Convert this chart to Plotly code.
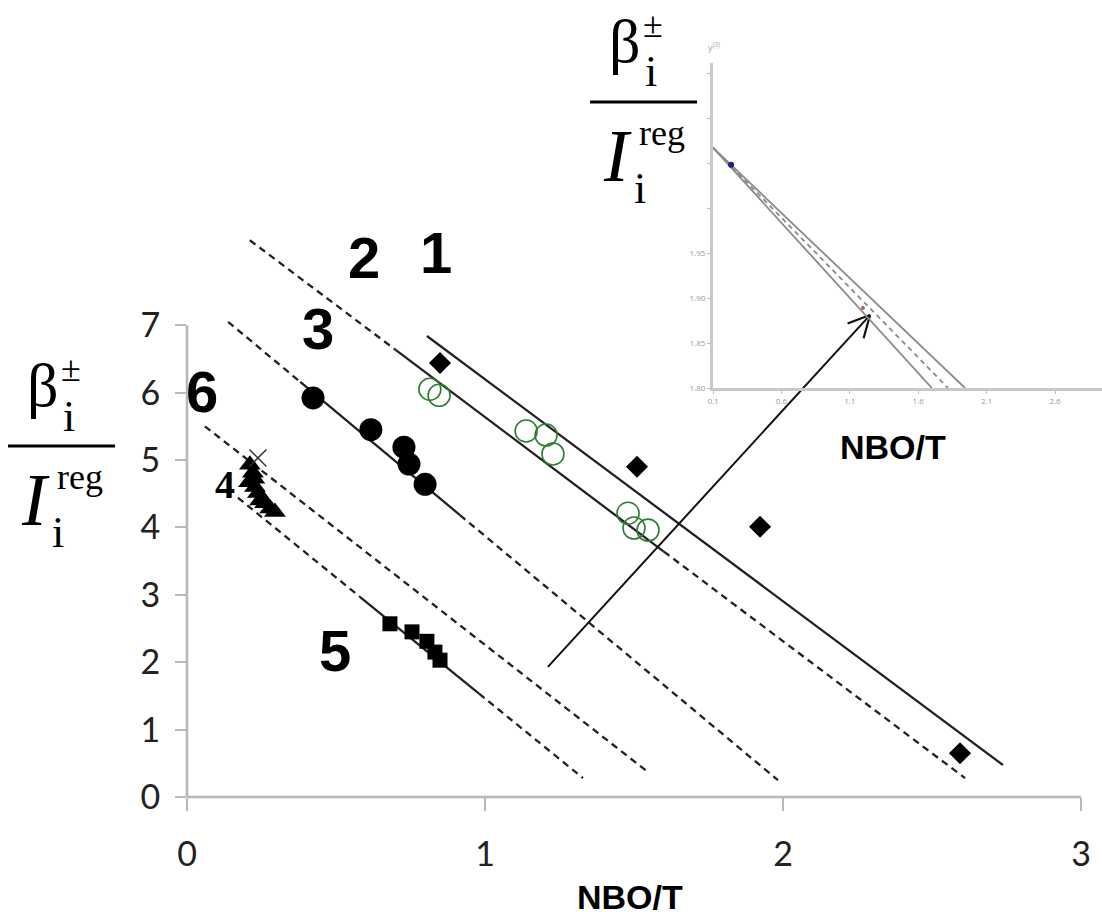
import math
import plotly.graph_objects as go

# ---------------- data: main panel (NBO/T vs beta/I) ----------------
diamond_x = [0.849, 1.510, 1.923, 2.594]
diamond_y = [6.44, 4.90, 4.01, 0.65]

open_circle_x = [0.815, 0.846, 1.138, 1.205, 1.228, 1.480, 1.500, 1.547]
open_circle_y = [6.05, 5.96, 5.43, 5.37, 5.09, 4.21, 3.99, 3.96]

dot_x = [0.423, 0.617, 0.728, 0.745, 0.799]
dot_y = [5.92, 5.45, 5.19, 4.94, 4.64]

triangle_x = [0.211, 0.221, 0.208, 0.228, 0.238, 0.252, 0.262, 0.279, 0.295, 0.226, 0.245]
triangle_y = [4.93, 4.81, 4.67, 4.60, 4.51, 4.43, 4.36, 4.28, 4.23, 4.72, 4.40]

cross_x = [0.238]
cross_y = [5.03]

square_x = [0.681, 0.755, 0.805, 0.832, 0.849]
square_y = [2.57, 2.45, 2.31, 2.15, 2.03]

# regression lines 1, 2, 3, 6, 5: end points and the part drawn solid
line_names = ["1", "2", "3", "6", "5"]
line_x0 = [0.805, 0.211, 0.138, 0.060, 0.171]
line_y0 = [6.84, 8.26, 7.05, 5.50, 4.44]
line_x1 = [2.738, 2.611, 1.983, 1.547, 1.329]
line_y1 = [0.475, 0.28, 0.25, 0.37, 0.28]
solid_x0 = [0.805, 0.70, 0.38, None, 0.58]
solid_x1 = [2.738, 1.60, 0.916, None, 0.98]

arrow_x = [1.211, 2.292]
arrow_y = [1.93, 7.15]

x_ticks = [0, 1, 2, 3]
y_ticks = [0, 1, 2, 3, 4, 5, 6, 7]

# ---------------- data: inset ----------------
inset_start_x = 0.1
inset_start_y = 2.067
inset_end_x = [1.70, 1.818, 1.942]
inset_end_y = [1.80, 1.80, 1.80]
inset_end_dash = ["solid", "dash", "solid"]
inset_blue_x, inset_blue_y = [0.232], [2.048]
inset_red_x, inset_red_y = [1.196], [1.889]
inset_x_ticks = [0.1, 0.6, 1.1, 1.6, 2.1, 2.6]
inset_x_labels = ["0.1", "0.6", "1.1", "1.6", "2.1", "2.6"]
inset_y_ticks = [1.80, 1.85, 1.90, 1.95]
inset_y_labels = ["1.80", "1.85", "1.90", "1.95"]
inset_y_minor = [2.00, 2.05, 2.10, 2.15]

# ---------------- geometry of the page ----------------
W, H = 1102, 924
ML, MB = 187, 127
PW, PH = W - ML, H - MB
X_PER_UNIT, Y_PER_UNIT = 298.0, 67.4
X_MAX = PW / X_PER_UNIT
Y_MAX = PH / Y_PER_UNIT


def paper_x(px):
    return (px - ML) / PW


def paper_y(py):
    return (PH - py) / PH


DASH = "7px,5px"
fig = go.Figure()

# regression lines, split into dashed and solid pieces
for i, name in enumerate(line_names):
    x0, y0, x1, y1 = line_x0[i], line_y0[i], line_x1[i], line_y1[i]
    slope = (y1 - y0) / (x1 - x0)

    def at(x):
        return y0 + slope * (x - x0)

    pieces = []
    if solid_x0[i] is None:
        pieces.append(([x0, x1], DASH))
    else:
        s0, s1 = solid_x0[i], solid_x1[i]
        if s0 > x0:
            pieces.append(([x0, s0], DASH))
        pieces.append(([s0, s1], "solid"))
        if s1 < x1:
            pieces.append(([s1, x1], DASH))
    for xs, dash in pieces:
        fig.add_trace(go.Scatter(
            x=xs, y=[at(v) for v in xs], mode="lines",
            line=dict(color="#222222", width=2.3, dash=dash),
            hoverinfo="skip", showlegend=False))

# arrow pointing into the inset, with an open V head
fig.add_trace(go.Scatter(
    x=arrow_x, y=arrow_y, mode="lines",
    line=dict(color="#111111", width=2),
    hoverinfo="skip", showlegend=False))
dx_px = (arrow_x[1] - arrow_x[0]) * X_PER_UNIT
dy_px = (arrow_y[1] - arrow_y[0]) * Y_PER_UNIT
ang = math.atan2(dy_px, dx_px)
head_len, head_half = 24, math.radians(27)
head_x, head_y = [], []
for sgn in (1, -1):
    a = ang + math.pi + sgn * head_half
    head_x.append(arrow_x[1] + head_len * math.cos(a) / X_PER_UNIT)
    head_y.append(arrow_y[1] + head_len * math.sin(a) / Y_PER_UNIT)
fig.add_trace(go.Scatter(
    x=[head_x[0], arrow_x[1], head_x[1]], y=[head_y[0], arrow_y[1], head_y[1]],
    mode="lines", line=dict(color="#111111", width=2.2),
    hoverinfo="skip", showlegend=False))

# data points
fig.add_trace(go.Scatter(
    x=diamond_x, y=diamond_y, mode="markers",
    marker=dict(symbol="diamond", size=17, color="black"), showlegend=False))
fig.add_trace(go.Scatter(
    x=open_circle_x, y=open_circle_y, mode="markers",
    marker=dict(symbol="circle-open", size=22, color="#2f7d32",
                line=dict(width=1.6, color="#2f7d32")), showlegend=False))
fig.add_trace(go.Scatter(
    x=dot_x, y=dot_y, mode="markers",
    marker=dict(symbol="circle", size=23, color="black"), showlegend=False))
fig.add_trace(go.Scatter(
    x=triangle_x, y=triangle_y, mode="markers",
    marker=dict(symbol="triangle-up", size=19, color="black"), showlegend=False))
fig.add_trace(go.Scatter(
    x=cross_x, y=cross_y, mode="markers",
    marker=dict(symbol="x-thin", size=17, color="#333",
                line=dict(width=1.5, color="#333")), showlegend=False))
fig.add_trace(go.Scatter(
    x=square_x, y=square_y, mode="markers",
    marker=dict(symbol="square", size=15, color="black"), showlegend=False))

# inset lines
for ex, ey, dash in zip(inset_end_x, inset_end_y, inset_end_dash):
    fig.add_trace(go.Scatter(
        x=[inset_start_x, ex], y=[inset_start_y, ey], mode="lines",
        line=dict(color="#8a8a8a", width=1.8, dash="5px,4px" if dash == "dash" else "solid"),
        xaxis="x2", yaxis="y2", hoverinfo="skip", showlegend=False))
fig.add_trace(go.Scatter(
    x=inset_blue_x, y=inset_blue_y, mode="markers",
    marker=dict(size=6, color="#1a237e"), xaxis="x2", yaxis="y2", showlegend=False))
fig.add_trace(go.Scatter(
    x=inset_red_x, y=inset_red_y, mode="markers",
    marker=dict(size=4, color="#b05a4a"), xaxis="x2", yaxis="y2", showlegend=False))

# main axis lines (only over 0..3 and 0..7)
axis_col = "#b8b8b8"
shapes = [
    dict(type="line", xref="paper", yref="paper", x0=0, x1=3 / X_MAX, y0=0, y1=0,
         line=dict(color=axis_col, width=2.5)),
    dict(type="line", xref="paper", yref="paper", x0=0, x1=0, y0=0, y1=7 / Y_MAX,
         line=dict(color=axis_col, width=2.5)),
]

annotations = []


def text(px, py, s, size, family="Liberation Sans", bold=False, italic=False, color="black"):
    if bold:
        s = "<b>" + s + "</b>"
    if italic:
        s = "<i>" + s + "</i>"
    annotations.append(dict(
        x=paper_x(px), y=paper_y(py), xref="paper", yref="paper", text=s,
        showarrow=False, xanchor="center", yanchor="middle",
        font=dict(family=family, size=size, color=color)))


def fraction(x0, bar_y):
    serif = "Liberation Serif"
    shapes.append(dict(type="line", xref="paper", yref="paper",
                       x0=paper_x(x0), x1=paper_x(x0 + 107),
                       y0=paper_y(bar_y), y1=paper_y(bar_y),
                       line=dict(color="black", width=3)))
    text(x0 + 35, bar_y - 61, "β", 62, serif)
    text(x0 + 63, bar_y - 77, "±", 36, serif)
    text(x0 + 61, bar_y - 30, "i", 44, serif)
    text(x0 + 27, bar_y + 54, "I", 74, serif, italic=True)
    text(x0 + 72, bar_y + 31, "reg", 36, serif)
    text(x0 + 50, bar_y + 86, "i", 44, serif)


fraction(8, 446)
fraction(590, 102)

# line labels
text(436, 252, "1", 58, bold=True)
text(364, 257, "2", 58, bold=True)
text(318, 328, "3", 58, bold=True)
text(202, 392, "6", 58, bold=True)
text(335, 650, "5", 58, bold=True)
text(225, 484, "4", 40, "Liberation Serif", bold=True)

# axis titles
text(630, 897, "NBO/T", 34, bold=True)
text(893, 447, "NBO/T", 34, bold=True)
text(714, 47, "y<sup>(3)</sup>", 9, color="#aaaaaa")

fig.update_layout(
    width=W, height=H,
    margin=dict(l=ML, r=0, t=0, b=MB, pad=0),
    paper_bgcolor="white", plot_bgcolor="rgba(0,0,0,0)",
    showlegend=False,
    shapes=shapes, annotations=annotations,
    xaxis=dict(range=[0, X_MAX], domain=[0, 1], tickvals=x_ticks,
               ticks="outside", ticklen=13, tickwidth=2, tickcolor=axis_col,
               showline=False, showgrid=False, zeroline=False,
               tickfont=dict(family="Lato", size=34, color="#222"),
               ticklabelstandoff=14),
    yaxis=dict(range=[0, Y_MAX], domain=[0, 1], tickvals=y_ticks,
               ticks="outside", ticklen=11, tickwidth=2, tickcolor=axis_col,
               showline=False, showgrid=False, zeroline=False,
               tickfont=dict(family="Lato", size=34, color="#222"),
               ticklabelstandoff=8),
    xaxis2=dict(domain=[paper_x(713), 1.0], range=[0.1, 0.1 + 389 / 136.8],
                anchor="y2", showline=True, linecolor="#c8c8c8", linewidth=3,
                tickvals=inset_x_ticks, ticktext=inset_x_labels,
                ticks="outside", ticklen=3, tickcolor="#bbbbbb",
                tickfont=dict(size=8, color="#9a9a9a"),
                showgrid=False, zeroline=False),
    yaxis2=dict(domain=[paper_y(388), paper_y(63)], range=[1.80, 1.80 + 325 / 900.0],
                anchor="x2", showline=True, linecolor="#c8c8c8", linewidth=3,
                tickvals=inset_y_ticks, ticktext=inset_y_labels,
                ticks="outside", ticklen=3, tickcolor="#bbbbbb",
                minor=dict(tickvals=inset_y_minor, ticks="outside", ticklen=3,
                           tickcolor="#bbbbbb"),
                tickfont=dict(size=8, color="#9a9a9a"),
                showgrid=False, zeroline=False),
)

fig.write_html("out.html")
